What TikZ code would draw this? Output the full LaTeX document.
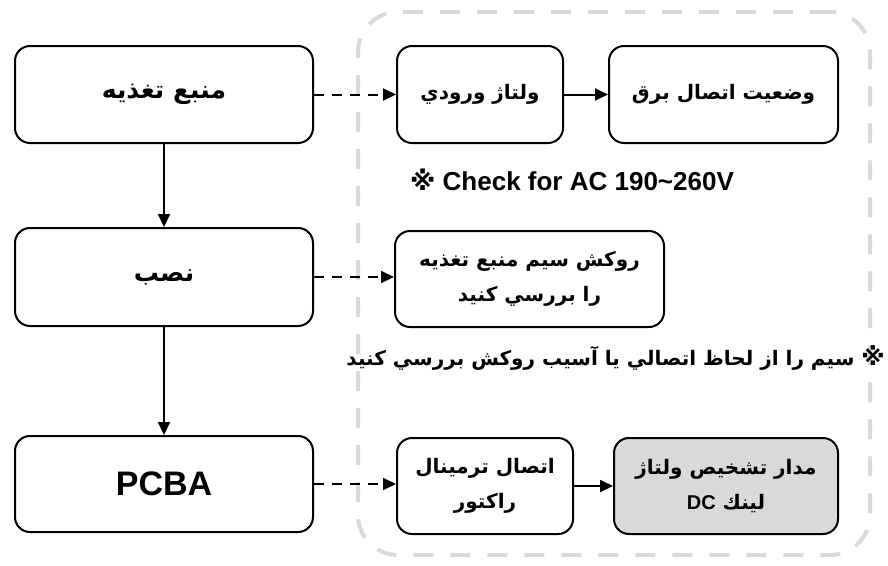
\documentclass[tikz,border=0pt]{standalone}
\usepackage{fontspec}
\setmainfont{Liberation Sans}
\newfontfamily\farsi[Script=Arabic]{DejaVu Sans}
\newfontfamily\marksym{DejaVu Sans}
\TeXXeTstate=1
\usetikzlibrary{arrows.meta}
\definecolor{framegray}{RGB}{217,217,217}
\definecolor{boxgray}{RGB}{217,217,217}
\newcommand\rtl[1]{\beginR#1\endR}

\begin{document}
\begin{tikzpicture}[x=1pt,y=-1pt,
  stepbox/.style={draw=black, line width=2pt, rounded corners=15pt,
    inner sep=0pt, align=center, anchor=center},
  bigtext/.style={font=\farsi\bfseries\fontsize{25}{30}\selectfont},
  boxtext/.style={font=\farsi\bfseries\fontsize{20}{35}\selectfont},
  notetext/.style={font=\bfseries\fontsize{26}{30}\selectfont},
  flow/.style={line width=2pt, -{Triangle[length=13pt,width=12pt]}},
  dashflow/.style={flow, dash pattern=on 10pt off 8pt},
  groupframe/.style={draw=framegray, line width=4pt, rounded corners=40pt,
    dash pattern=on 20pt off 17pt, minimum width=512pt, minimum height=543pt,
    inner sep=0pt}
]
\useasboundingbox (0,0) rectangle (888,565);

% dashed frame around the checks
\node[groupframe] (checks) at (614,283.5) {};

% main stages
\node[stepbox, bigtext, minimum width=298pt, minimum height=97pt]
  (power) at (164,94.5) {\rtl{منبع تغذیه}};
\node[stepbox, bigtext, minimum width=298pt, minimum height=98pt]
  (install) at (164,277) {\rtl{نصب}};
\node[stepbox, font=\bfseries\fontsize{34}{40}\selectfont,
  minimum width=298pt, minimum height=96pt]
  (pcba) at (164,484) {PCBA};

% checks per stage
\node[stepbox, boxtext, minimum width=166pt, minimum height=97pt]
  (volt) at (480,94.5) {\rtl{ولتاژ ورودي}};
\node[stepbox, boxtext, minimum width=229pt, minimum height=97pt]
  (state) at (723.5,94.5) {\rtl{وضعيت اتصال برق}};
\node[stepbox, boxtext, minimum width=269pt, minimum height=96pt]
  (wire) at (529.5,279) {\rtl{روکش سیم منبع تغذیه}\\\rtl{را بررسي كنيد}};
\node[stepbox, boxtext, minimum width=176pt, minimum height=96pt]
  (term) at (485,486) {\rtl{اتصال ترمينال}\\\rtl{راكتور}};
\node[stepbox, boxtext, fill=boxgray, minimum width=224pt, minimum height=96pt]
  (dclink) at (726,486)
  {\rtl{مدار تشخيص ولتاژ}\\\beginR لينك \beginL{\rmfamily DC}\endL\endR};

% notes
\node[notetext, anchor=west, inner sep=0pt] (acnote) at (410,179.5)
  {{\marksym ※} Check for AC 190\textasciitilde260V};
\node[boxtext, anchor=east, inner sep=0pt] (wirenote) at (885,358)
  {\rtl{{\marksym\fontsize{24}{30}\selectfont ※} سیم را از لحاظ اتصالي يا آسيب روكش بررسي كنيد}};

% connectors
\draw[flow] (power.south) -- (install.north);
\draw[flow] (install.south) -- (pcba.north);
\draw[dashflow] (power.east) -- (volt.west);
\draw[dashflow] (install.east) -- (wire.west |- install.east);
\draw[dashflow] (pcba.east) -- (term.west |- pcba.east);
\draw[flow] (volt.east) -- (state.west);
\draw[flow] (term.east) -- (dclink.west);
\end{tikzpicture}
\end{document}
